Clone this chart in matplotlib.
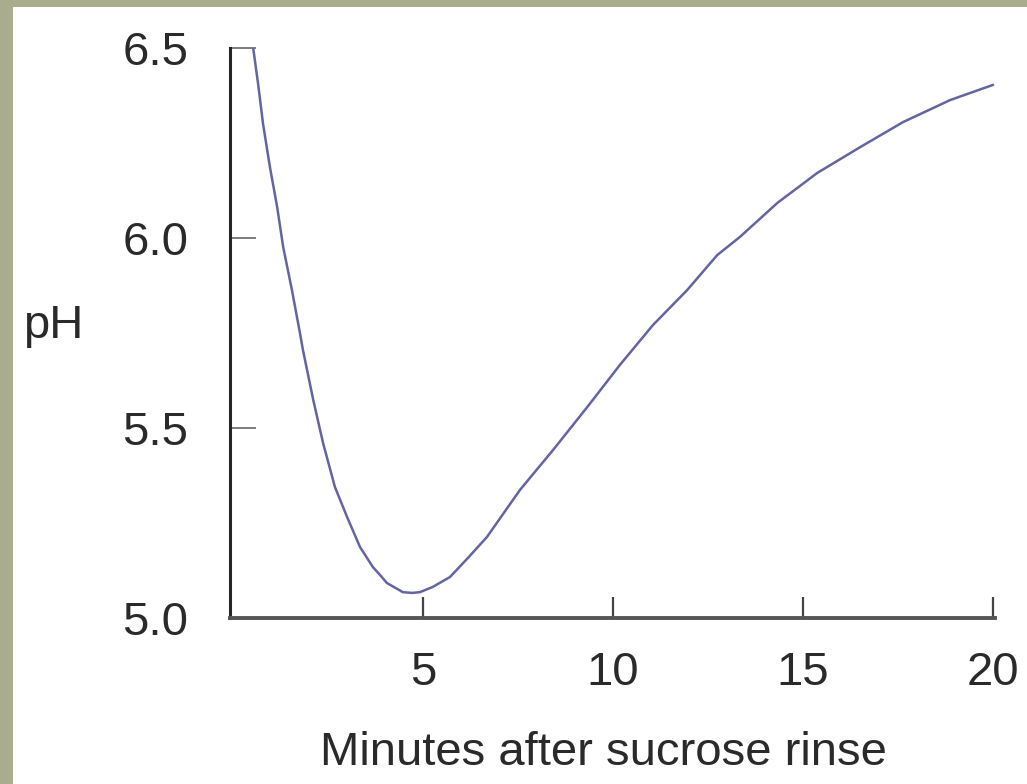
import matplotlib.pyplot as plt
from matplotlib.patches import Rectangle

# pH curve (minutes, pH)
minutes = [0.53, 0.66, 0.79, 0.97, 1.16, 1.32, 1.55, 1.76, 1.84, 2.11, 2.37,
           2.68, 3.0, 3.34, 3.68, 3.87, 4.05, 4.47, 4.71, 4.92, 5.26, 5.71,
           6.18, 6.68, 7.55, 8.42, 9.32, 10.18, 11.05, 11.95, 12.74, 13.34,
           14.32, 15.37, 16.5, 17.63, 18.87, 20.0]
ph = [6.50, 6.405, 6.30, 6.187, 6.082, 5.976, 5.863, 5.75, 5.705, 5.574, 5.46,
      5.345, 5.266, 5.187, 5.134, 5.113, 5.092, 5.068, 5.066, 5.068, 5.082, 5.108,
      5.158, 5.213, 5.337, 5.442, 5.555, 5.666, 5.771, 5.863, 5.955, 6.003,
      6.092, 6.171, 6.239, 6.305, 6.363, 6.403]

x_ticks = [5, 10, 15, 20]
y_ticks = [5.0, 5.5, 6.0, 6.5]
y_tick_labels = ['5.0', '5.5', '6.0', '6.5']

plt.rcParams['font.family'] = ['Liberation Sans', 'DejaVu Sans']

W, H = 1027, 784
fig = plt.figure(figsize=(W / 100, H / 100), dpi=100)
fig.patch.set_facecolor('#a9ad8d')
# white panel on the olive frame
fig.add_artist(Rectangle((13 / W, 0), 1, 1 - 7 / H, transform=fig.transFigure,
                         facecolor='white', edgecolor='none', zorder=0))

ax = fig.add_axes([230 / W, 1 - 618 / H, (995 - 230) / W, (618 - 48) / H])
ax.set_facecolor('none')
ax.plot(minutes, ph, color='#6464a0', lw=1.8, solid_capstyle='round',
        solid_joinstyle='round')

ax.set_xlim(-0.08, 20.05)
ax.set_ylim(5.0, 6.5)
ax.set_xticks(x_ticks)
ax.set_xticklabels([str(t) for t in x_ticks])
ax.set_yticks(y_ticks)
ax.set_yticklabels(y_tick_labels)

for s in ['top', 'right']:
    ax.spines[s].set_visible(False)
ax.spines['left'].set_color('#262626')
ax.spines['left'].set_linewidth(2.2)
ax.spines['bottom'].set_color('#555555')
ax.spines['bottom'].set_linewidth(2.8)

ax.tick_params(axis='x', direction='in', length=15, width=1.6, color='#444444',
               labelsize=34, labelcolor='#2a2a2a', pad=24)
ax.tick_params(axis='y', direction='in', length=19, width=1.2, color='#666666',
               labelsize=34, labelcolor='#2a2a2a', pad=30)

fig.text(603 / W, 1 - 753 / H, 'Minutes after sucrose rinse', ha='center',
         va='center', fontsize=34, color='#2a2a2a')
fig.text(23 / W, 1 - 326 / H, 'pH', ha='left', va='center', fontsize=34,
         color='#2a2a2a')

fig.savefig('out.png', dpi=100, facecolor=fig.get_facecolor())
